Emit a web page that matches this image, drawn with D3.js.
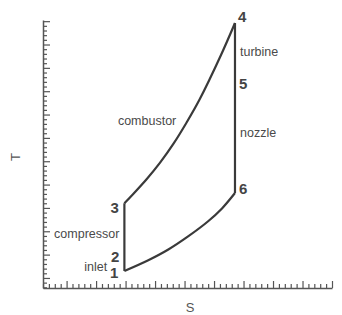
<!DOCTYPE html>
<html>
<head>
<meta charset="utf-8">
<script src="https://cdn.jsdelivr.net/npm/d3@7"></script>
<style>
    body { margin: 0; background: #fff; }
    svg text { font-family: "Liberation Sans", Arial, sans-serif; }
</style>
</head>
<body>
<div class="chart"></div>
<script>
// state points of the cycle (entropy s, temperature T, in axis units)
var stations = [
    {id: "1", s: 1.96, T: 0.30},
    {id: "2", s: 1.96, T: 0.91},
    {id: "3", s: 1.96, T: 3.20},
    {id: "4", s: 5.71, T: 10.92},
    {id: "5", s: 5.71, T: 8.34},
    {id: "6", s: 5.71, T: 3.64}
];
// constant pressure line through the combustor (3 -> 4)
var combustorS = [1.96, 2.26, 2.72, 3.17, 3.62, 4.07, 4.50, 5.24, 5.71];
var combustorT = [3.20, 3.60, 4.24, 4.94, 5.74, 6.66, 7.62, 9.56, 10.92];
// constant pressure line back to the inlet (1 -> 6)
var exhaustS = [1.96, 2.77, 3.45, 4.12, 4.80, 5.27, 5.71];
var exhaustT = [0.30, 0.76, 1.22, 1.78, 2.43, 2.98, 3.64];
// process names
var processNames = ["combustor", "turbine", "nozzle", "compressor", "inlet"];
var processS = [1.74, 5.88, 5.88, 1.79, 1.38];
var processT = [6.72, 9.69, 6.20, 1.87, 0.48];

var margin = {top: 20, right: 10, bottom: 27, left: 43},
        width = 342,
        height = 315;

var x = d3.scaleLinear().domain([-0.8, 9]).range([margin.left, 332]);
var y = d3.scaleLinear().domain([-0.43, 11.05]).range([288, margin.top]);

var svg = d3.select(".chart")
        .append("svg")
        .attr("width", width)
        .attr("height", height);

var axisColor = "#555";
var majorX = d3.range(0, 10),
        minorX = d3.range(-4, 46).map(function (k) { return k / 5; }).filter(function (d) { return d % 1 !== 0; }),
        majorY = d3.range(0, 12),
        minorY = d3.range(-2, 56).map(function (k) { return k / 5; }).filter(function (d) { return d % 1 !== 0; });

// y axis, ticks pointing inside
svg.append("g")
        .attr("transform", "translate(" + margin.left + ",0)")
        .call(d3.axisRight(y).tickValues(majorY).tickSize(7).tickSizeOuter(0).tickFormat(""));
svg.append("g")
        .attr("transform", "translate(" + margin.left + ",0)")
        .call(d3.axisRight(y).tickValues(minorY).tickSize(4).tickSizeOuter(0).tickFormat(""))
        .select(".domain").remove();

// x axis
svg.append("g")
        .attr("transform", "translate(0,288)")
        .call(d3.axisTop(x).tickValues(majorX).tickSize(7).tickSizeOuter(0).tickFormat(""));
svg.append("g")
        .attr("transform", "translate(0,288)")
        .call(d3.axisTop(x).tickValues(minorX).tickSize(4).tickSizeOuter(0).tickFormat(""))
        .select(".domain").remove();

svg.selectAll(".domain").style("stroke", axisColor).style("stroke-width", 1.5);
svg.selectAll(".tick line").style("stroke", axisColor).style("stroke-width", 1.2);

// axis titles
svg.append("text")
        .attr("transform", "translate(15,157) rotate(-90)")
        .attr("text-anchor", "middle")
        .attr("dominant-baseline", "central")
        .style("font-size", "13px")
        .style("fill", axisColor)
        .text("T");
svg.append("text")
        .attr("x", 190)
        .attr("y", 307)
        .attr("text-anchor", "middle")
        .attr("dominant-baseline", "central")
        .style("font-size", "13px")
        .style("fill", axisColor)
        .text("S");

// cycle
var st = {};
stations.forEach(function (d) { st[d.id] = d; });

var line = d3.line()
        .x(function (d) { return x(d[0]); })
        .y(function (d) { return y(d[1]); })
        .curve(d3.curveCatmullRom.alpha(0.5));

var combustor = combustorS.map(function (s, i) { return [s, combustorT[i]]; });
var exhaust = exhaustS.map(function (s, i) { return [s, exhaustT[i]]; });

var cycle = svg.append("g")
        .style("fill", "none")
        .style("stroke", "#3a3a3a")
        .style("stroke-width", 2.2)
        .style("stroke-linejoin", "miter");

cycle.append("path").attr("d", line(combustor));
cycle.append("path").attr("d", line(exhaust));
cycle.append("path").attr("d", d3.line()([[x(st["1"].s), y(st["1"].T)], [x(st["3"].s), y(st["3"].T)]]));
cycle.append("path").attr("d", d3.line()([[x(st["4"].s), y(st["4"].T)], [x(st["6"].s), y(st["6"].T)]]));

// station numbers
var numOffset = {
    "1": [-6, 1.5, "end"],
    "2": [-5, 0, "end"],
    "3": [-5.5, 4.5, "end"],
    "4": [3, -7, "start"],
    "5": [4, 0, "start"],
    "6": [4, -4, "start"]
};
svg.selectAll(".num")
        .data(stations)
        .enter().append("text")
        .attr("class", "num")
        .attr("x", function (d) { return x(d.s) + numOffset[d.id][0]; })
        .attr("y", function (d) { return y(d.T) + numOffset[d.id][1]; })
        .attr("text-anchor", function (d) { return numOffset[d.id][2]; })
        .attr("dominant-baseline", "central")
        .style("font-size", "15px")
        .style("font-weight", "bold")
        .style("fill", "#444")
        .text(function (d) { return d.id; });

// process labels
svg.selectAll(".proc")
        .data(processNames)
        .enter().append("text")
        .attr("class", "proc")
        .attr("x", function (d, i) { return x(processS[i]); })
        .attr("y", function (d, i) { return y(processT[i]); })
        .attr("text-anchor", function (d) { return (d === "compressor" || d === "inlet") ? "end" : "start"; })
        .attr("dominant-baseline", "central")
        .style("font-size", "12.5px")
        .style("fill", "#4a4a4a")
        .text(function (d) { return d; });
</script>
</body>
</html>
